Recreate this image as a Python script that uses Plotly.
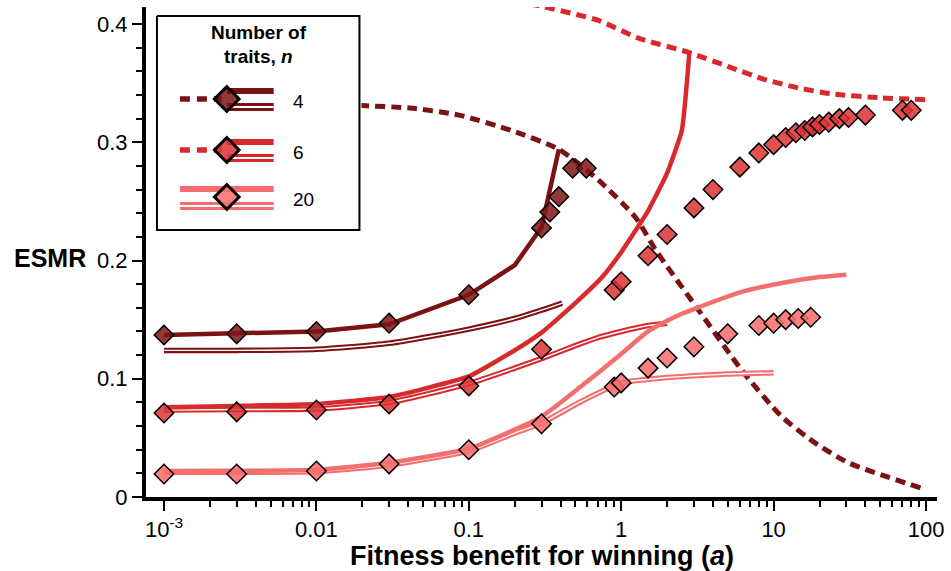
import plotly.graph_objects as go

# ---------------- data ----------------
N4_DASH_A = [0.015, 0.02, 0.041, 0.086, 0.19, 0.39, 0.71, 1.25, 1.68, 3.22, 6.2, 11.3, 18.6, 30.9, 93]
N4_DASH_V = [0.332, 0.331, 0.329, 0.323, 0.310, 0.294, 0.268, 0.236, 0.209, 0.158, 0.107, 0.068, 0.046, 0.029, 0.0076]

N6_DASH_A = [0.25, 0.3, 0.71, 1.3, 2.77, 5.3, 8.8, 14.5, 23.9, 50.7, 100]
N6_DASH_V = [0.417, 0.415, 0.403, 0.388, 0.376, 0.363, 0.353, 0.346, 0.341, 0.3376, 0.336]

N4_SOLID_A = [0.001, 0.003, 0.01, 0.03, 0.1, 0.2, 0.3, 0.39]
N4_SOLID_V = [0.137, 0.138, 0.140, 0.146, 0.171, 0.196, 0.228, 0.294]

N4_DOUBLE_A = [0.001, 0.003, 0.01, 0.03, 0.1, 0.2, 0.3, 0.41]
N4_DOUBLE_V = [0.124, 0.124, 0.125, 0.130, 0.142, 0.151, 0.158, 0.164]

N6_SOLID_A = [0.001, 0.003, 0.01, 0.03, 0.1, 0.2, 0.3, 0.5, 0.75, 1, 1.5, 2, 2.5, 2.8]
N6_SOLID_V = [0.076, 0.077, 0.0787, 0.0846, 0.102, 0.124, 0.139, 0.164, 0.186, 0.207, 0.242, 0.274, 0.310, 0.376]

N6_DOUBLE_A = [0.001, 0.003, 0.01, 0.03, 0.1, 0.2, 0.3, 0.5, 0.71, 1, 1.5, 2]
N6_DOUBLE_V = [0.0735, 0.074, 0.0745, 0.080, 0.096, 0.109, 0.117, 0.128, 0.135, 0.140, 0.145, 0.147]

N20_SOLID_A = [0.001, 0.003, 0.01, 0.03, 0.1, 0.2, 0.3, 0.55, 1, 1.5, 2, 2.5, 3, 4.2, 6, 11.3, 20, 30]
N20_SOLID_V = [0.022, 0.0222, 0.023, 0.029, 0.041, 0.057, 0.068, 0.094, 0.121, 0.140, 0.149, 0.155, 0.159, 0.166, 0.173,
               0.181, 0.186, 0.188]

N20_DOUBLE_A = [0.001, 0.003, 0.01, 0.03, 0.1, 0.2, 0.3, 0.55, 1, 1.5, 2, 3, 5, 10]
N20_DOUBLE_V = [0.021, 0.021, 0.0215, 0.027, 0.039, 0.054, 0.0625, 0.081, 0.0965, 0.0995, 0.101, 0.1025, 0.104, 0.105]

N4_PTS_A = [0.001, 0.003, 0.01, 0.03, 0.1, 0.3, 0.34, 0.39, 0.48, 0.59]
N4_PTS_V = [0.137, 0.138, 0.140, 0.147, 0.171, 0.2276, 0.241, 0.254, 0.278, 0.278]

N6_PTS_A = [0.001, 0.003, 0.01, 0.03, 0.1, 0.3, 0.9, 1, 1.5, 2, 3, 4, 6, 8, 10, 12, 14, 16, 18, 20, 23, 27, 31, 40, 70, 80]
N6_PTS_V = [0.071, 0.072, 0.0736, 0.0787, 0.094, 0.125, 0.175, 0.182, 0.204, 0.222, 0.2445, 0.260, 0.279, 0.291,
            0.298, 0.304, 0.308, 0.310, 0.313, 0.315, 0.317, 0.320, 0.321, 0.323, 0.327, 0.327]

N20_PTS_A = [0.001, 0.003, 0.01, 0.03, 0.1, 0.3, 0.9, 1, 1.5, 2, 3, 5, 8, 10, 12, 14.5, 17.5]
N20_PTS_V = [0.0195, 0.0195, 0.022, 0.028, 0.040, 0.062, 0.093, 0.0965, 0.109, 0.1176, 0.127, 0.138, 0.145,
             0.147, 0.150, 0.151, 0.152]

X_TICKS = [0.001, 0.01, 0.1, 1, 10, 100]
X_TICKTEXT = ["10<sup>-3</sup>", "0.01", "0.1", "1", "10", "100"]
Y_TICKS = [0, 0.1, 0.2, 0.3, 0.4]
Y_TICKTEXT = ["0", "0.1", "0.2", "0.3", "0.4"]
LEGEND_LABELS = ["4", "6", "20"]

# ---------------- styling ----------------
C_DARK = "#7b1214"
C_MED = "#d8292c"
C_LIGHT = "#f46e6e"
F_DARK = "rgba(128,20,22,0.85)"
F_MED = "rgba(220,50,52,0.85)"
F_LIGHT = "rgba(248,112,112,0.88)"
FONT = "Liberation Sans, Arial, Helvetica, sans-serif"

fig = go.Figure()


def dashed(a, v, color):
    fig.add_trace(go.Scatter(x=a, y=v, mode="lines", line=dict(color=color, width=5, dash="10px,6px", shape="spline", smoothing=0.6),
                             showlegend=False, hoverinfo="skip"))


def solid(a, v, color, shape="linear", smoothing=0.6):
    fig.add_trace(go.Scatter(x=a, y=v, mode="lines", line=dict(color=color, width=4.5, shape=shape, smoothing=smoothing),
                             showlegend=False, hoverinfo="skip"))


def double(a, v, color):
    fig.add_trace(go.Scatter(x=a, y=v, mode="lines", line=dict(color=color, width=5.5, shape="spline", smoothing=0.6),
                             showlegend=False, hoverinfo="skip"))
    fig.add_trace(go.Scatter(x=a, y=v, mode="lines", line=dict(color="white", width=1.4, shape="spline", smoothing=0.6),
                             showlegend=False, hoverinfo="skip"))


def diamonds(a, v, fill):
    fig.add_trace(go.Scatter(x=a, y=v, mode="markers",
                             marker=dict(symbol="diamond", size=15, color=fill, line=dict(color="black", width=1.5)),
                             showlegend=False, hoverinfo="skip", cliponaxis=False))


dashed(N4_DASH_A, N4_DASH_V, C_DARK)
dashed(N6_DASH_A, N6_DASH_V, C_MED)
double(N4_DOUBLE_A, N4_DOUBLE_V, C_DARK)
double(N6_DOUBLE_A, N6_DOUBLE_V, C_MED)
double(N20_DOUBLE_A, N20_DOUBLE_V, C_LIGHT)
solid(N4_SOLID_A, N4_SOLID_V, C_DARK)
solid(N6_SOLID_A, N6_SOLID_V, C_MED, shape="spline", smoothing=0.4)
solid(N20_SOLID_A, N20_SOLID_V, C_LIGHT, shape="spline")
diamonds(N4_PTS_A, N4_PTS_V, F_DARK)
diamonds(N6_PTS_A, N6_PTS_V, F_MED)
diamonds(N20_PTS_A, N20_PTS_V, F_LIGHT)

# ---------------- custom legend (in its own pixel-like axes) ----------------
W, H = 951, 571
ML, MR, MT, MB = 146, 12, 7, 74
PW, PH = W - ML - MR, H - MT - MB
LX0, LX1, LY0, LY1 = 155, 362, 14, 232


def lg(xs, ys, **kw):
    fig.add_trace(go.Scatter(x=xs, y=ys, xaxis="x2", yaxis="y2", showlegend=False, hoverinfo="skip", **kw))


lg([157, 360, 360, 157, 157], [16, 16, 230, 230, 16], mode="lines", fill="toself", fillcolor="white",
   line=dict(color="black", width=2))

entries = [(99, C_DARK, F_DARK, True), (150, C_MED, F_MED, True), (197, C_LIGHT, F_LIGHT, False)]
for (yc, col, fcol, has_dash) in entries:
    if has_dash:
        lg([180, 222], [yc, yc], mode="lines", line=dict(color=col, width=5.5, dash="10px,7px"))
        lg([227, 274], [yc - 8, yc - 8], mode="lines", line=dict(color=col, width=6))
        lg([227, 274], [yc + 8, yc + 8], mode="lines", line=dict(color=col, width=8))
        lg([227, 274], [yc + 8, yc + 8], mode="lines", line=dict(color="white", width=2))
    else:
        lg([180, 274], [yc - 8, yc - 8], mode="lines", line=dict(color=col, width=6))
        lg([180, 274], [yc + 9, yc + 9], mode="lines", line=dict(color=col, width=8))
        lg([180, 274], [yc + 9, yc + 9], mode="lines", line=dict(color="white", width=2))
    lg([227], [yc], mode="markers", marker=dict(symbol="diamond", size=19, color=fcol, line=dict(color="black", width=3)))

annotations = []
for (yc, _, _, _), lab in zip(entries, LEGEND_LABELS):
    annotations.append(dict(x=291, y=yc + 3, xref="x2", yref="y2", text=lab, showarrow=False, xanchor="left",
                            yanchor="middle", font=dict(family=FONT, size=19, color="black")))
annotations.append(dict(x=259, y=33, xref="x2", yref="y2", text="<b>Number of</b>", showarrow=False,
                        yanchor="middle", font=dict(family=FONT, size=19, color="black")))
annotations.append(dict(x=259, y=57, xref="x2", yref="y2", text="<b>traits, <i>n</i></b>", showarrow=False,
                        yanchor="middle", font=dict(family=FONT, size=19, color="black")))

# axis titles
annotations.append(dict(x=(543.5 - ML) / PW, y=(MT + PH - 556) / PH, xref="paper", yref="paper",
                        text="<b>Fitness benefit for winning (<i>a</i>)</b>", showarrow=False,
                        xanchor="center", yanchor="middle", font=dict(family=FONT, size=27, color="black")))
annotations.append(dict(x=(50 - ML) / PW, y=(MT + PH - 258) / PH, xref="paper", yref="paper",
                        text="<b>ESMR</b>", showarrow=False,
                        xanchor="center", yanchor="middle", font=dict(family=FONT, size=25, color="black")))

minor_x = [m * 10 ** e for e in range(-3, 2) for m in range(2, 10)]
minor_y = [i * 0.02 for i in range(21) if i % 5 != 0]

fig.update_layout(
    width=W, height=H,
    margin=dict(l=ML, r=MR, t=MT, b=MB),
    paper_bgcolor="white", plot_bgcolor="white",
    showlegend=False,
    annotations=annotations,
    xaxis=dict(type="log", range=[-3.118, 2.072], showgrid=False, zeroline=False,
               showline=True, linecolor="black", linewidth=4,
               ticks="outside", ticklen=10, tickwidth=2, tickcolor="black",
               tickvals=X_TICKS, ticktext=X_TICKTEXT,
               tickfont=dict(family=FONT, size=22, color="black"),
               minor=dict(tickvals=minor_x, ticks="outside", ticklen=6, tickwidth=1.5, tickcolor="black", showgrid=False)),
    yaxis=dict(range=[0, 0.4144], showgrid=False, zeroline=False,
               showline=True, linecolor="black", linewidth=4,
               ticks="outside", ticklen=10, tickwidth=2, tickcolor="black",
               tickvals=Y_TICKS, ticktext=Y_TICKTEXT,
               tickfont=dict(family=FONT, size=22, color="black"),
               minor=dict(tickvals=minor_y, ticks="outside", ticklen=6, tickwidth=1.5, tickcolor="black", showgrid=False)),
    xaxis2=dict(domain=[(LX0 - ML) / PW, (LX1 - ML) / PW], range=[LX0, LX1], anchor="y2",
                visible=False, fixedrange=True),
    yaxis2=dict(domain=[(MT + PH - LY1) / PH, (MT + PH - LY0) / PH], range=[LY1, LY0], anchor="x2",
                visible=False, fixedrange=True),
)

fig.write_html("out.html", config={"displayModeBar": False},
               post_script="document.body.style.margin='0px';document.body.style.overflow='hidden';")
